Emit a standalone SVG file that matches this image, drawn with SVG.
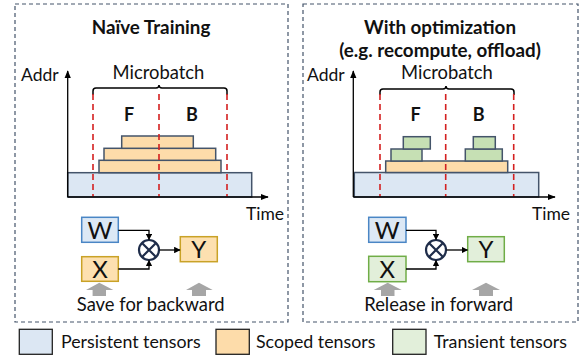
<svg xmlns="http://www.w3.org/2000/svg" width="582" height="360" viewBox="0 0 582 360">
<defs>
<style>
text{font-family:Lato,"Open Sans","Liberation Sans",sans-serif;fill:#111}
.title{font-weight:bold;font-size:18.8px;text-anchor:middle}
.lbl{font-size:18.4px}
.ax{font-size:17.5px}
.legt{font-size:17.8px}
.fb{font-weight:bold;font-size:18px;text-anchor:middle}
.node{font-size:24px;text-anchor:middle}
.panel{fill:none;stroke:#44546a;stroke-width:1.2;stroke-dasharray:4,3}
.pers{fill:#dce7f3;stroke:#44546a;stroke-width:1.5}
.scop{fill:#fddcaa;stroke:#44546a;stroke-width:1.5}
.tran{fill:#c6e0b4;stroke:#44546a;stroke-width:1.5}
.axis{stroke:#000;stroke-width:1.3;fill:none}
.red{stroke:#d42020;stroke-width:1.6;stroke-dasharray:6,4;fill:none}
.brace{stroke:#000;stroke-width:1.5;fill:none}
.wbox{fill:#dce8f5;stroke:#4a86c5;stroke-width:1.5}
.xsc{fill:#fde0b0;stroke:#c9a227;stroke-width:1.5}
.xtr{fill:#e2efda;stroke:#70ad47;stroke-width:1.5}
.conn{stroke:#000;stroke-width:1.3;fill:none}
.gray{fill:#a6a6a6}
.leg{stroke:#222;stroke-width:1.3}
</style>
<marker id="ah" viewBox="0 0 10 10" refX="9" refY="5" markerWidth="5" markerHeight="5" orient="auto"><path d="M0,0L10,5L0,10z" fill="#000"/></marker>
<marker id="ah2" viewBox="0 0 10 10" refX="9" refY="5" markerWidth="6" markerHeight="6" orient="auto"><path d="M0,1L10,5L0,9z" fill="#000"/></marker>
</defs>

<!-- Left panel -->
<g id="panel-naive">
<rect class="panel" x="15" y="4" width="273" height="318"/>
<text class="title" x="151" y="34">Naïve Training</text>
<text class="ax" x="21" y="81">Addr</text>
<text class="lbl" x="158.5" y="79" text-anchor="middle">Microbatch</text>
<path class="brace" d="M93,95 V91 Q93,88 96,88 H156 Q159,88 159,85 Q159,88 162,88 H224 Q227,88 227,91 V95"/>
<rect class="pers" x="67.7" y="172.7" width="184" height="24.3"/>
<rect class="scop" x="99" y="160.3" width="122" height="12.4"/>
<rect class="scop" x="104" y="148.3" width="111.7" height="12"/>
<rect class="scop" x="121.7" y="136" width="71.6" height="12.3"/>
<line class="red" x1="93" y1="94" x2="93" y2="197"/>
<line class="red" x1="159" y1="94" x2="159" y2="197"/>
<line class="red" x1="227" y1="94" x2="227" y2="197"/>
<text class="fb" x="129" y="121">F</text>
<text class="fb" x="192" y="121">B</text>
<path class="axis" d="M67.7,197 V71" marker-end="url(#ah2)"/>
<path class="axis" d="M67.7,197 H268" marker-end="url(#ah2)"/>
<text class="ax" x="246" y="220">Time</text>
</g>

<!-- Right panel -->
<g id="panel-opt">
<rect class="panel" x="303" y="4" width="275" height="318"/>
<text class="title" x="440" y="34">With optimization</text>
<text class="title" x="440" y="57">(e.g. recompute, offload)</text>
<text class="ax" x="307" y="81">Addr</text>
<text class="lbl" x="447" y="79" text-anchor="middle">Microbatch</text>
<path class="brace" d="M380,95 V92 Q380,89 383,89 H443 Q446,89 446,86 Q446,89 449,89 H511 Q514,89 514,92 V95"/>
<rect class="pers" x="354.3" y="172.5" width="184.4" height="24.5"/>
<rect class="scop" x="385.7" y="161" width="122" height="11.5"/>
<rect class="tran" x="391" y="149" width="31" height="12"/>
<rect class="tran" x="403.3" y="136.7" width="27" height="12.3"/>
<rect class="tran" x="465.3" y="149" width="37" height="12"/>
<rect class="tran" x="473.3" y="136.7" width="22" height="12.3"/>
<line class="red" x1="380" y1="94" x2="380" y2="197"/>
<line class="red" x1="445.7" y1="94" x2="445.7" y2="197"/>
<line class="red" x1="513.7" y1="94" x2="513.7" y2="197"/>
<text class="fb" x="415.7" y="121">F</text>
<text class="fb" x="478.7" y="121">B</text>
<path class="axis" d="M353.3,197 V71" marker-end="url(#ah2)"/>
<path class="axis" d="M353.3,197 H555" marker-end="url(#ah2)"/>
<text class="ax" x="532" y="220">Time</text>
</g>

<!-- Left graph nodes -->
<g id="L-W"><rect class="wbox" x="81.7" y="217.3" width="36.6" height="25"/><text class="node" x="100" y="238.5">W</text></g>
<g id="L-X"><rect class="xsc" x="81.7" y="256.7" width="36.6" height="24.6"/><text class="node" x="100" y="278">X</text></g>
<g id="L-mul"><circle cx="149" cy="250" r="10" fill="#fff" stroke="#1f2d4a" stroke-width="2.2"/><path d="M142,243L156,257M156,243L142,257" stroke="#1f2d4a" stroke-width="2.2"/></g>
<g id="L-Y"><rect class="xsc" x="180.3" y="236.7" width="37" height="25"/><text class="node" x="198.8" y="258">Y</text></g>
<g id="L-notes">
<path class="gray" d="M99.3,282.7 L113.3,290 H106 V296 H92.6 V290 H86 Z"/>
<path class="gray" d="M199,282.7 L212.7,290 H206 V296 H192 V290 H186 Z"/>
<text class="lbl" x="150.7" y="311" text-anchor="middle">Save for backward</text>
</g>

<!-- Right graph nodes -->
<g id="R-W"><rect class="wbox" x="368.7" y="217.3" width="37.3" height="25"/><text class="node" x="387.3" y="238.5">W</text></g>
<g id="R-X"><rect class="xtr" x="368.7" y="256.3" width="37.3" height="25.4"/><text class="node" x="387.3" y="278">X</text></g>
<g id="R-mul"><circle cx="436" cy="250" r="10" fill="#fff" stroke="#1f2d4a" stroke-width="2.2"/><path d="M429,243L443,257M443,243L429,257" stroke="#1f2d4a" stroke-width="2.2"/></g>
<g id="R-Y"><rect class="xtr" x="467.7" y="236.7" width="36.6" height="25"/><text class="node" x="486" y="258">Y</text></g>
<g id="R-notes">
<path class="gray" d="M387.7,282.7 L401.7,290 H394.5 V296 H381 V290 H373.7 Z"/>
<path class="gray" d="M486,282.7 L500,290 H493 V296 H479 V290 H472 Z"/>
<text class="lbl" x="438.7" y="311" text-anchor="middle">Release in forward</text>
</g>

<g id="connectors">
<path class="conn" d="M118.3,230.3 H149 V239.5" marker-end="url(#ah)"/>
<path class="conn" d="M118.3,269 H149 V260.5" marker-end="url(#ah)"/>
<path class="conn" d="M159.5,250 H180" marker-end="url(#ah)"/>
<path class="conn" d="M406,230.3 H436 V239.5" marker-end="url(#ah)"/>
<path class="conn" d="M406,269 H436 V260.5" marker-end="url(#ah)"/>
<path class="conn" d="M446.5,250 H467.5" marker-end="url(#ah)"/>
</g>

<!-- Legend -->
<g id="legend">
<rect class="leg" x="19.3" y="329.3" width="33" height="25" fill="#dce7f3"/>
<text class="legt" x="61" y="348">Persistent tensors</text>
<rect class="leg" x="216" y="329.3" width="33.3" height="25" fill="#fddcaa"/>
<text class="legt" x="256" y="348">Scoped tensors</text>
<rect class="leg" x="392.7" y="329.3" width="33.3" height="25" fill="#e2efda"/>
<text class="legt" x="433.7" y="348">Transient tensors</text>
</g>
</svg>
